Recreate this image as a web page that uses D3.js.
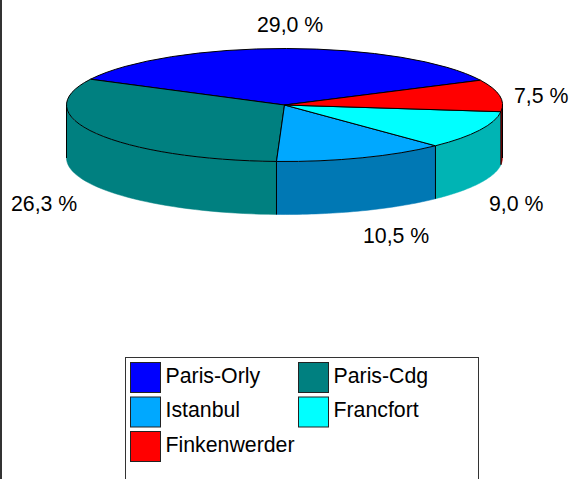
<!DOCTYPE html>
<html>
<head>
<meta charset="utf-8">
<script src="https://cdn.jsdelivr.net/npm/d3@7"></script>
<style>
  html, body { margin: 0; padding: 0; background: #fff; }
  svg { display: block; }
  text { font-family: "Liberation Sans", Arial, sans-serif; font-size: 21.3px; fill: #000; }
</style>
</head>
<body>
<div id="chart"></div>
<script>
var categories = ["Paris-Orly", "Paris-Cdg", "Istanbul", "Francfort", "Finkenwerder"];
var values = [29.0, 26.3, 10.5, 9.0, 7.5];
var topColors = ["#0000ff", "#008080", "#00a8ff", "#00ffff", "#ff0000"];
var sideColors = ["#0000b4", "#008080", "#0078b4", "#00b4b4", "#b40000"];

var width = 569,
  height = 479;
var cx = 284.5,
  cy = 105,
  rx = 218,
  ry = 56.5,
  depth = 53;

// label anchors, same order as categories
var labelX = [257, 11, 363, 489, 514];
var labelY = [32, 211, 243, 211, 103];

var svg = d3.select("#chart").append("svg").attr("width", width).attr("height", height);

// frame line down the left edge
svg.append("rect").attr("x", 0).attr("y", 0).attr("width", 2).attr("height", height).attr("fill", "#333");

var start = (64 * Math.PI) / 180;
var pie = d3
  .pie()
  .sort(null)
  .startAngle(start)
  .endAngle(start - 2 * Math.PI);
var arcs = pie(values);

function px(a) {
  return cx + rx * Math.sin(a);
}
function py(a) {
  return cy - ry * Math.cos(a);
}

// the front half of the rim runs from -90deg to -270deg
var frontA = -Math.PI / 2,
  frontB = (-3 * Math.PI) / 2;
var wallLine = d3.line();

var walls = svg.append("g");
arcs.forEach(function (d, i) {
  var a = Math.min(d.startAngle, frontA),
    b = Math.max(d.endAngle, frontB);
  if (a <= b) return;
  var n = 40;
  var upper = d3.range(n + 1).map(function (k) {
    var t = a + ((b - a) * k) / n;
    return [px(t), py(t)];
  });
  var lower = upper
    .map(function (p) {
      return [p[0], p[1] + depth];
    })
    .reverse();
  walls
    .append("path")
    .attr("d", wallLine(upper.concat(lower)) + "Z")
    .attr("fill", sideColors[i])
    .attr("stroke", sideColors[i])
    .attr("stroke-width", 0.5);
});

// vertical edges on the wall
var edges = [frontA, frontB];
arcs.forEach(function (d) {
  if (d.endAngle < frontA && d.endAngle > frontB) edges.push(d.endAngle);
});
walls
  .selectAll("line")
  .data(edges)
  .enter()
  .append("line")
  .attr("x1", px)
  .attr("x2", px)
  .attr("y1", py)
  .attr("y2", function (a) {
    return py(a) + depth;
  })
  .attr("stroke", "#000")
  .attr("stroke-width", 1);

// top face, flattened circle
var arc = d3.arc().innerRadius(0).outerRadius(rx);
svg
  .append("g")
  .attr("transform", "translate(" + cx + "," + cy + ") scale(1," + ry / rx + ")")
  .selectAll("path")
  .data(arcs)
  .enter()
  .append("path")
  .attr("d", arc)
  .attr("fill", function (d, i) {
    return topColors[i];
  })
  .attr("stroke", "#000")
  .attr("stroke-width", 1)
  .attr("vector-effect", "non-scaling-stroke");

var fmt = d3.formatLocale({ decimal: ",", thousands: " ", grouping: [3], currency: ["", ""] }).format(".1f");
svg
  .append("g")
  .selectAll("text")
  .data(values)
  .enter()
  .append("text")
  .attr("x", function (d, i) {
    return labelX[i];
  })
  .attr("y", function (d, i) {
    return labelY[i];
  })
  .text(function (d) {
    return fmt(d) + " %";
  });

// legend, runs off the bottom of the page like the original
var legend = svg.append("g");
legend
  .append("rect")
  .attr("x", 125.5)
  .attr("y", 357.5)
  .attr("width", 353)
  .attr("height", 140)
  .attr("fill", "#fff")
  .attr("stroke", "#333")
  .attr("stroke-width", 1);

var legendItems = legend
  .selectAll("g")
  .data(categories)
  .enter()
  .append("g")
  .attr("transform", function (d, i) {
    return "translate(" + (130.5 + (i % 2) * 168) + "," + (362.5 + Math.floor(i / 2) * 34.5) + ")";
  });
legendItems
  .append("rect")
  .attr("width", 30)
  .attr("height", 30)
  .attr("fill", function (d, i) {
    return topColors[i];
  })
  .attr("stroke", "#222")
  .attr("stroke-width", 1);
legendItems
  .append("text")
  .attr("x", 35)
  .attr("y", 20)
  .text(function (d) {
    return d;
  });
</script>
</body>
</html>
